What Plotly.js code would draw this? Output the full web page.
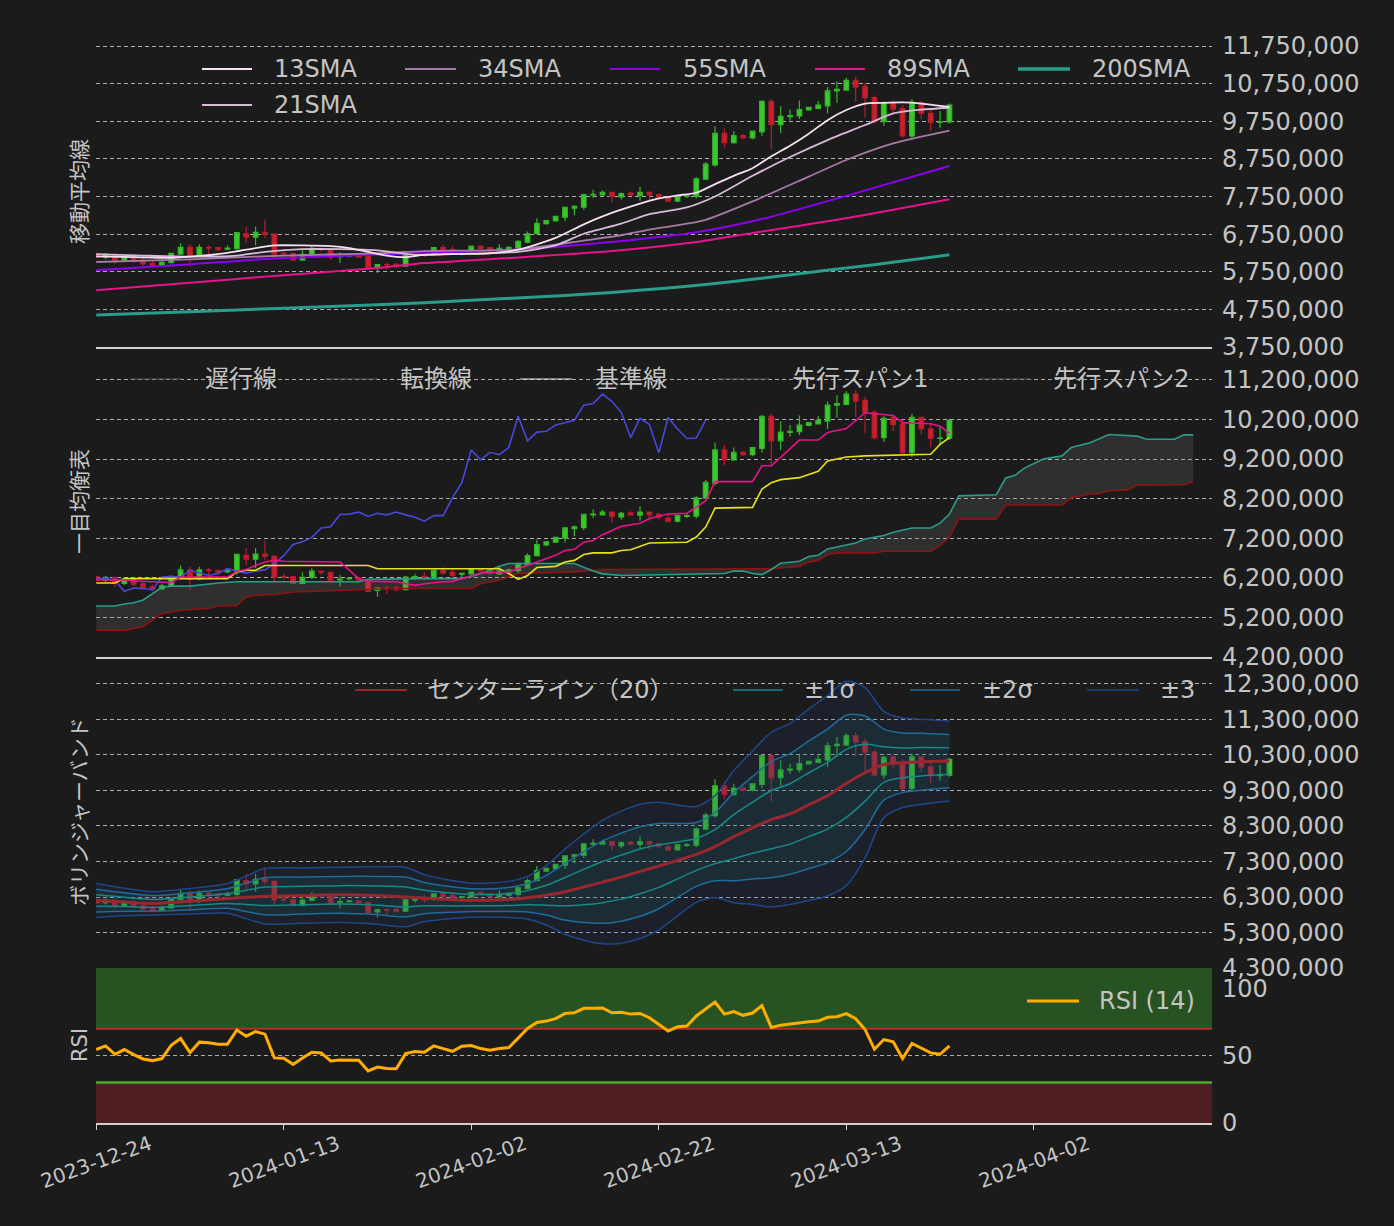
<!DOCTYPE html>
<html><head><meta charset="utf-8">
<script src="https://cdn.plot.ly/plotly-3.0.1.min.js"></script>
<style>html,body{margin:0;padding:0;background:#1b1b1b;}#chart{width:1394px;height:1226px;}</style>
</head><body><div id="chart"></div>
<script>
// ---------- data (prices in million JPY) ----------
const START = [2023, 11, 24];   // 2023-12-24, day index 0
const M = 1e6;
const candleOpen  = [6.23,6.14,6.21,6.06,6.16,6.05,5.97,5.92,5.99,6.22,6.40,6.17,6.40,6.39,6.35,6.37,6.76,6.67,6.80,6.75,6.24,6.23,6.06,6.21,6.37,6.34,6.15,6.17,6.19,6.15,5.88,5.94,5.95,5.90,6.21,6.24,6.23,6.39,6.34,6.29,6.30,6.43,6.39,6.30,6.35,6.38,6.54,6.76,7.03,7.10,7.20,7.44,7.47,7.79,7.79,7.86,7.74,7.84,7.78,7.86,7.80,7.71,7.63,7.75,7.76,8.21,8.59,9.43,9.18,9.37,9.31,9.47,10.28,9.66,9.87,9.89,10.05,10.09,10.16,10.56,10.58,10.84,10.68,10.38,9.74,10.25,10.09,9.36,10.25,9.96,9.72,9.73];
const candleHigh  = [6.25,6.25,6.22,6.21,6.21,6.12,6.03,6.05,6.25,6.51,6.48,6.48,6.45,6.40,6.45,6.80,6.95,6.95,7.14,6.76,6.30,6.25,6.34,6.44,6.37,6.36,6.27,6.22,6.21,6.17,5.96,6.00,5.99,6.25,6.30,6.35,6.39,6.47,6.43,6.33,6.45,6.45,6.39,6.48,6.43,6.59,6.82,7.17,7.13,7.22,7.46,7.52,7.82,7.93,7.91,7.86,7.86,7.88,8.01,7.86,7.83,7.78,7.77,7.82,8.26,8.67,9.62,9.56,9.49,9.41,9.49,10.31,10.35,10.15,10.06,10.30,10.12,10.29,10.66,10.81,10.91,10.94,10.77,10.44,10.28,10.31,10.18,10.34,10.25,10.11,10.02,10.22];
const candleLow   = [6.11,6.08,5.97,6.01,5.99,5.90,5.86,5.91,5.97,6.21,5.89,6.14,6.21,6.30,6.32,6.28,6.51,6.45,6.65,6.10,6.16,6.05,6.04,6.17,6.28,6.06,5.98,6.14,6.13,5.84,5.72,5.80,5.86,5.88,6.14,6.14,6.19,6.28,6.21,6.18,6.28,6.35,6.26,6.28,6.32,6.32,6.51,6.74,7.00,7.09,7.09,7.25,7.40,7.71,7.77,7.60,7.67,7.79,7.64,7.64,7.67,7.60,7.60,7.71,7.70,8.19,8.54,9.05,9.15,9.28,9.27,9.36,9.00,9.43,9.77,9.81,10.03,10.07,9.96,10.24,10.56,10.26,9.85,9.69,9.63,9.91,9.31,9.25,9.81,9.50,9.58,9.69];
const candleClose = [6.13,6.21,6.06,6.16,6.04,5.96,5.92,6.00,6.24,6.40,6.16,6.40,6.38,6.34,6.38,6.79,6.67,6.80,6.74,6.22,6.22,6.06,6.21,6.37,6.34,6.14,6.17,6.19,6.14,5.86,5.94,5.93,5.90,6.22,6.23,6.22,6.39,6.32,6.26,6.31,6.43,6.37,6.32,6.37,6.40,6.56,6.76,7.04,7.11,7.22,7.46,7.49,7.80,7.81,7.86,7.75,7.83,7.79,7.86,7.79,7.73,7.63,7.77,7.77,8.22,8.61,9.43,9.18,9.37,9.31,9.49,10.28,9.66,9.88,9.90,10.06,10.12,10.18,10.56,10.60,10.84,10.66,10.38,9.74,10.23,10.07,9.36,10.25,9.96,9.72,9.73,10.18];

// moving averages (day index, value)
const sma13Idx = [0,4,8,11,14,17,19,22,25,27,29,31,33,35,38,42,45,47,49,52,54,56,58,60,62,64,66,68,70,72,74,76,78,80,82,84,86,88,90,91];
const sma13Val = [6.16,6.14,6.12,6.17,6.25,6.38,6.45,6.45,6.43,6.38,6.28,6.18,6.14,6.20,6.22,6.24,6.34,6.48,6.65,7.01,7.22,7.40,7.56,7.70,7.78,7.85,8.08,8.30,8.50,8.82,9.10,9.42,9.78,10.05,10.22,10.24,10.25,10.22,10.16,10.13];
const sma21Idx = [0,5,10,15,18,22,26,30,34,38,45,49,52,56,59,63,66,70,74,78,82,85,88,91];
const sma21Val = [6.22,6.18,6.15,6.18,6.28,6.35,6.35,6.32,6.20,6.22,6.28,6.45,6.76,7.03,7.28,7.46,7.75,8.30,8.80,9.25,9.65,9.96,10.06,10.11];
const sma34Idx = [0,10,20,30,35,45,52,56,59,64,65,70,76,80,85,91];
const sma34Val = [6.01,6.08,6.18,6.24,6.30,6.34,6.58,6.72,6.87,7.07,7.13,7.62,8.28,8.72,9.16,9.50];
const sma55Idx = [0,10,19,35,45,54,64,71,81,91];
const sma55Val = [5.79,5.95,6.10,6.25,6.34,6.52,6.80,7.15,7.84,8.56];
const sma89Idx = [0,10,20,30,35,45,55,64,70,79,85,91];
const sma89Val = [5.26,5.46,5.66,5.85,5.98,6.13,6.30,6.54,6.78,7.13,7.40,7.68];
const sma200Idx = [0,10,20,30,40,50,55,60,65,70,75,80,85,91];
const sma200Val = [4.60,4.69,4.78,4.87,4.99,5.12,5.20,5.30,5.41,5.55,5.70,5.85,6.00,6.20];

// ichimoku (day index, value)
const tenkanIdx = [0,2,3,4,6,8,9,14,15,16,17,18,19,20,26,27,28,29,32,34,35,37,38,41,44,45,47,49,50,51,52,53,54,56,58,59,61,63,64,65,66,70,71,72,73,75,77,78,80,82,85,86,89,90,91];
const tenkanVal = [6.16,6.14,6.15,6.12,6.10,6.08,6.22,6.22,6.36,6.41,6.51,6.60,6.64,6.62,6.60,6.40,6.18,6.11,6.10,6.01,6.05,6.10,6.11,6.32,6.35,6.43,6.60,6.77,6.89,6.92,7.10,7.14,7.29,7.50,7.58,7.70,7.81,7.83,7.98,8.15,8.63,8.63,9.03,9.03,9.24,9.68,9.68,9.87,9.97,10.37,10.30,10.12,10.09,10.03,9.85];
const kijunIdx = [0,2,3,14,15,16,17,18,29,30,43,44,45,46,47,49,50,51,52,53,55,56,57,59,63,64,65,66,70,71,72,73,75,77,78,80,82,89,90,91];
const kijunVal = [6.07,6.07,6.18,6.18,6.35,6.39,6.39,6.51,6.51,6.43,6.43,6.31,6.16,6.26,6.46,6.49,6.60,6.64,6.79,6.83,6.83,6.89,6.91,7.08,7.10,7.23,7.48,7.96,7.98,8.44,8.60,8.68,8.73,8.89,9.15,9.25,9.28,9.32,9.57,9.74];
const span1Idx = [0,2,3,4,5,6,7,8,10,13,15,28,29,35,39,41,43,44,51,53,54,56,63,67,68,69,70,71,72,73,75,76,77,78,81,82,84,85,87,89,90,91,92,96,97,98,99,101,103,104,106,108,111,112,115,116,117];
const span1Val = [5.49,5.49,5.54,5.57,5.64,5.80,5.96,5.99,5.99,6.07,6.10,6.10,6.16,6.18,6.18,6.30,6.49,6.56,6.56,6.37,6.30,6.26,6.28,6.31,6.37,6.37,6.31,6.28,6.41,6.57,6.62,6.74,6.77,6.93,7.08,7.18,7.27,7.35,7.46,7.46,7.58,7.81,8.27,8.30,8.72,8.79,8.97,9.20,9.28,9.49,9.61,9.82,9.78,9.70,9.70,9.81,9.81];
const span2Idx = [0,3,5,7,8,9,12,13,15,16,17,19,21,24,28,32,40,41,43,45,51,54,72,75,76,77,78,79,83,84,89,90,91,92,96,97,103,104,106,107,108,110,111,116,117];
const span2Val = [4.88,4.88,4.97,5.30,5.33,5.38,5.43,5.49,5.50,5.72,5.76,5.78,5.84,5.86,5.89,5.93,5.93,6.05,6.14,6.31,6.35,6.41,6.43,6.49,6.60,6.64,6.79,6.83,6.83,6.87,6.87,7.02,7.23,7.69,7.69,8.04,8.04,8.22,8.32,8.33,8.40,8.42,8.54,8.55,8.63];
const chikouShift = -26;

// bollinger (day index, center, sigma)
const bbIdx   = [0,3,6,10,14,16,18,22,26,30,33,35,37,40,44,46,48,50,52,54,56,58,60,62,64,66,68,70,72,74,76,78,80,82,84,86,88,91];
const bbMid   = [6.20,6.16,6.12,6.18,6.26,6.29,6.32,6.34,6.36,6.34,6.30,6.27,6.24,6.21,6.23,6.28,6.35,6.45,6.58,6.72,6.86,7.02,7.17,7.33,7.50,7.72,8.00,8.25,8.48,8.64,8.90,9.15,9.50,9.80,10.03,10.08,10.11,10.13];
const bbSigma = [0.16,0.13,0.11,0.12,0.14,0.20,0.26,0.26,0.26,0.27,0.28,0.22,0.19,0.16,0.17,0.20,0.28,0.40,0.50,0.58,0.62,0.63,0.60,0.52,0.45,0.48,0.62,0.72,0.82,0.85,0.90,0.94,0.96,0.80,0.50,0.42,0.40,0.375];

// RSI(14), one value per candle, and its zone limits
const rsi14 = [54.5,57.2,51,54.5,50.7,47.5,46.3,47.8,57.7,62.7,52.2,60,59.5,58.5,58.5,69,64.4,67.9,65.9,48.3,48,43.5,48.3,52.5,52,46,46.8,46.8,46.5,38.6,41.5,40.5,40.3,51.5,53,52.5,57.2,55.2,53.2,57,57.5,55.2,54,55.2,56,63,70.1,74.6,75.6,77.4,81.3,81.8,85.1,85.1,85.3,81.8,82.1,80.8,81.3,78.1,73.4,68.2,71.4,71.9,79.4,84.3,89.8,80.8,82.6,79.9,81.6,87.1,70.9,72.6,73.4,74.6,75.1,75.6,78.4,78.9,81.1,77.4,69.4,54.7,61.9,60.2,47.8,59,55.2,52,51,57.2];
const rsiOverbought = 70, rsiOversold = 30, rsiTop = 115;

// axis ticks
const xTickDates = ['2023-12-24','2024-01-13','2024-02-02','2024-02-22','2024-03-13','2024-04-02'];
const y1Ticks = [3.75,4.75,5.75,6.75,7.75,8.75,9.75,10.75,11.75];
const y2Ticks = [4.2,5.2,6.2,7.2,8.2,9.2,10.2,11.2];
const y3Ticks = [4.3,5.3,6.3,7.3,8.3,9.3,10.3,11.3,12.3];
const y4Ticks = [0,50,100];

// ---------- helpers ----------
const DAY = 86400000;
const t0 = Date.UTC(START[0], START[1], START[2]);
const dateOf = i => new Date(t0 + i * DAY).toISOString().slice(0, 10);
const dates = idx => idx.map(dateOf);
const yen = arr => arr.map(v => v * M);
const candleDates = candleClose.map((_, i) => dateOf(i));

const FONT = '"DejaVu Sans", "Noto Sans CJK JP", sans-serif';
const C = {
  bg: '#1b1b1b', text: '#c4c4c4', grid: 'rgba(215,215,215,0.78)', axis: '#d2d2d2',
  up: '#3cc82e', upLine: '#35b528', dn: '#c8202f', dnLine: '#b81d2c',
  s13: '#f6dff2', s21: '#d9b9d9', s34: '#a57aa5', s55: '#8c00f2', s89: '#e8128a', s200: '#2a9d8a',
  chikou: '#4848dc', tenkan: '#e8128a', kijun: '#e6e21c', span1: '#2a9d8a', span2: '#8e1414',
  bbMid: '#9a2630', bb1: '#17888a', bb2: '#1f6c9a', bb3: '#1f4688',
  rsi: '#ffae00', legFaint: '#575757', legWhite: '#ececec'
};
const XR = ['2023-12-23 23:30', '2024-04-21'];

function candle(xa, ya) {
  return {
    type: 'candlestick', x: candleDates, open: yen(candleOpen), high: yen(candleHigh),
    low: yen(candleLow), close: yen(candleClose), xaxis: xa, yaxis: ya, showlegend: false,
    hoverinfo: 'skip', whiskerwidth: 0,
    increasing: { line: { color: C.upLine, width: 1.2 }, fillcolor: C.up },
    decreasing: { line: { color: C.dnLine, width: 1.2 }, fillcolor: C.dn }
  };
}
function line(x, y, color, width, xa, ya, extra) {
  return Object.assign({ type: 'scatter', mode: 'lines', x, y, xaxis: xa, yaxis: ya,
    line: { color, width }, showlegend: false, hoverinfo: 'skip' }, extra || {});
}
const NONE = 'rgba(0,0,0,0)';

const traces = [];
// panel 1: moving averages
traces.push(candle('x', 'y'));
[[sma200Idx, sma200Val, C.s200, 3], [sma89Idx, sma89Val, C.s89, 2], [sma55Idx, sma55Val, C.s55, 2],
 [sma34Idx, sma34Val, C.s34, 1.8], [sma21Idx, sma21Val, C.s21, 1.8], [sma13Idx, sma13Val, C.s13, 1.8]]
  .forEach(([i, v, c, w]) => traces.push(line(dates(i), yen(v), c, w, 'x', 'y', { line: { color: c, width: w, shape: 'spline', smoothing: 0.6 } })));

// panel 2: ichimoku
traces.push(candle('x2', 'y2'));
traces.push(line(dates(span2Idx), yen(span2Val), NONE, 0, 'x2', 'y2'));
traces.push(line(dates(span1Idx), yen(span1Val), NONE, 0, 'x2', 'y2', { fill: 'tonexty', fillcolor: 'rgba(128,128,128,0.2)' }));
traces.push(line(dates(span2Idx), yen(span2Val), C.span2, 1.6, 'x2', 'y2'));
traces.push(line(dates(span1Idx), yen(span1Val), C.span1, 1.6, 'x2', 'y2'));
traces.push(line(candleClose.map((_, i) => dateOf(i + chikouShift)), yen(candleClose), C.chikou, 1.6, 'x2', 'y2'));
traces.push(line(dates(kijunIdx), yen(kijunVal), C.kijun, 1.6, 'x2', 'y2'));
traces.push(line(dates(tenkanIdx), yen(tenkanVal), C.tenkan, 1.6, 'x2', 'y2'));

// panel 3: bollinger
traces.push(candle('x3', 'y3'));
const band = k => bbMid.map((m, j) => (m + k * bbSigma[j]) * M);
const bbX = dates(bbIdx);
const sp = { shape: 'spline', smoothing: 0.8 };
const ln = (c, w) => Object.assign({ color: c, width: w }, sp);
traces.push(line(bbX, band(-3), NONE, 0, 'x3', 'y3', { line: ln(NONE, 0) }));
traces.push(line(bbX, band(3), NONE, 0, 'x3', 'y3', { fill: 'tonexty', fillcolor: 'rgba(40,60,130,0.16)', line: ln(NONE, 0) }));
traces.push(line(bbX, band(-2), NONE, 0, 'x3', 'y3', { line: ln(NONE, 0) }));
traces.push(line(bbX, band(2), NONE, 0, 'x3', 'y3', { fill: 'tonexty', fillcolor: 'rgba(30,120,110,0.14)', line: ln(NONE, 0) }));
[[3, C.bb3], [-3, C.bb3], [2, C.bb2], [-2, C.bb2], [1, C.bb1], [-1, C.bb1]].forEach(([k, c]) =>
  traces.push(line(bbX, band(k), c, 1.5, 'x3', 'y3', { line: ln(c, 1.5) })));
traces.push(line(bbX, yen(bbMid), C.bbMid, 3, 'x3', 'y3', { line: ln(C.bbMid, 3) }));

// panel 4: RSI with zones
traces.push(line(XR, [rsiOversold, rsiOversold], NONE, 0, 'x4', 'y4', { fill: 'tozeroy', fillcolor: '#4e1e22' }));
traces.push(line(XR, [rsiOverbought, rsiOverbought], NONE, 0, 'x4', 'y4'));
traces.push(line(XR, [rsiTop, rsiTop], NONE, 0, 'x4', 'y4', { fill: 'tonexty', fillcolor: '#275221' }));
traces.push(line(XR, [rsiOverbought, rsiOverbought], '#b3302a', 2, 'x4', 'y4'));
traces.push(line(XR, [rsiOversold, rsiOversold], '#4cad2a', 2.5, 'x4', 'y4'));
traces.push(line(candleDates, rsi14, C.rsi, 3, 'x4', 'y4'));

// ---------- layout ----------
const L = 96, R = 1212, T = 37, B = 1123;
const W = R - L, H = B - T;
const px = x => (x - L) / W;
const py = y => (B - y) / H;

function xax(anchor, last) {
  const a = {
    anchor, type: 'date', range: XR, showgrid: false, zeroline: false,
    showline: true, linecolor: C.axis, linewidth: 2, rangeslider: { visible: false },
    showticklabels: false, tickvals: xTickDates, ticks: last ? 'outside' : '', ticklen: 5, tickcolor: C.axis,
    fixedrange: true
  };
  if (anchor !== 'y') a.matches = 'x';
  return a;
}
function yax(domain, range, ticks, scale, fmt) {
  return {
    domain, range, side: 'right', tickvals: ticks.map(v => v * scale), tickformat: fmt,
    showgrid: true, gridcolor: C.grid, griddash: '4px,3px', gridwidth: 1, zeroline: false,
    showline: false, ticks: '', ticklabelstandoff: 9,
    tickfont: { size: 24, color: C.text, family: FONT }, fixedrange: true
  };
}

const shapes = [];
const annotations = [];
// legends (drawn as sample line + label, matplotlib-style)
const legendItems = [
  ['13SMA', C.s13, 2, 202, 252, 272, 69], ['34SMA', C.s34, 2, 405, 456, 476, 69], ['55SMA', C.s55, 2, 610, 660, 681, 69],
  ['89SMA', C.s89, 2, 815, 865, 885, 69], ['200SMA', C.s200, 3.5, 1018, 1070, 1090, 69], ['21SMA', C.s21, 2, 202, 252, 272, 105],
  ['遅行線', C.legFaint, 1.2, 130, 182, 203, 379], ['転換線', C.legFaint, 1.2, 325, 377, 398, 379], ['基準線', C.legWhite, 1.2, 520, 572, 593, 379],
  ['先行スパン1', C.legFaint, 1.2, 717, 769, 790, 379], ['先行スパン2', C.legFaint, 1.2, 978, 1030, 1051, 379],
  ['センターライン（20）', C.bbMid, 2, 355, 407, 425, 690], ['±1σ', C.bb1, 1.5, 733, 783, 802, 690], ['±2σ', C.bb2, 1.5, 910, 960, 980, 690],
  ['±3', C.bb3, 1.5, 1087, 1139, 1158, 690], ['RSI (14)', C.rsi, 3, 1027, 1079, 1097, 1001]
];
legendItems.forEach(([label, color, w, x0, x1, xt, y]) => {
  shapes.push({ type: 'line', xref: 'paper', yref: 'paper', x0: px(x0), x1: px(x1), y0: py(y), y1: py(y), line: { color, width: w } });
  annotations.push({ xref: 'paper', yref: 'paper', x: px(xt), y: py(y), xanchor: 'left', yanchor: 'middle', showarrow: false,
    text: label, font: { size: 24, color: C.text, family: FONT } });
});
// panel titles (left, rotated)
[['移動平均線', 192], ['一目均衡表', 502], ['ボリンジャーバンド', 812], ['RSI', 1045]].forEach(([t, y]) => {
  annotations.push({ xref: 'paper', yref: 'paper', x: px(80), y: py(y), xanchor: 'center', yanchor: 'middle', textangle: -90,
    showarrow: false, text: t, font: { size: 21, color: C.text, family: FONT } });
});
// x tick labels, rotated 20° and centred on their ticks
xTickDates.forEach(d => {
  annotations.push({ xref: 'x4', yref: 'paper', x: d, y: py(1162), xanchor: 'center', yanchor: 'middle', textangle: -20,
    showarrow: false, text: d, font: { size: 20, color: C.text, family: FONT } });
});

const d4 = [0, 155 / H], d3 = [155 / H, 466 / H], d2 = [466 / H, 776 / H], d1 = [776 / H, 1];
const layout = {
  width: 1394, height: 1226, margin: { l: L, r: 1394 - R, t: T, b: 1226 - B },
  paper_bgcolor: C.bg, plot_bgcolor: C.bg, showlegend: false, hovermode: false,
  font: { family: FONT, color: C.text },
  xaxis: xax('y', false), xaxis2: xax('y2', false), xaxis3: xax('y3', false), xaxis4: xax('y4', true),
  yaxis: yax(d1, [3.75 * M, 11.99 * M], y1Ticks, M, ',.0f'),
  yaxis2: yax(d2, [4.2 * M, 12.03 * M], y2Ticks, M, ',.0f'),
  yaxis3: yax(d3, [4.3 * M, 13.06 * M], y3Ticks, M, ',.0f'),
  yaxis4: yax(d4, [0, rsiTop], y4Ticks, 1, 'd'),
  shapes, annotations
};
Plotly.newPlot('chart', traces, layout, { displayModeBar: false, staticPlot: true });
</script>
</body></html>
